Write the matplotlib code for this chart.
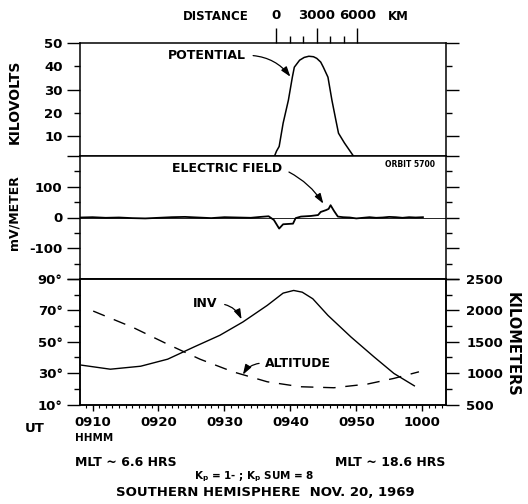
import matplotlib.pyplot as plt

# time axis: minutes after 09:00 UT
ut_ticks = [10, 20, 30, 40, 50, 60]
ut_labels = ["0910", "0920", "0930", "0940", "0950", "1000"]

# potential (kV)
pot_time = [8.1, 37.4, 37.9, 38.3, 38.9, 39.7, 40.3, 40.6, 41.4, 42.1, 42.8, 43.5,
            44.0, 44.6, 45.0, 45.7, 46.3, 46.9, 47.3, 48.2, 49.9, 63.6]
pot_kv = [0, 0, 3.5, 5.5, 15.5, 25.4, 35.3, 39.6, 42.6, 43.8, 44.3, 44.1,
          43.4, 41.8, 39.6, 35.3, 25.4, 16.8, 11.2, 7.0, 0, 0]

# electric field (mV/m)
ef_time = [8.2, 10, 12, 14, 16, 18, 20, 22, 24, 26, 28, 30, 32, 34, 35.5, 36.7,
           37.5, 38.3, 38.9, 40.4, 40.8, 41.6, 43.1, 44.2, 44.6, 45.4, 45.8, 46.1,
           46.6, 47.2, 48, 49, 50, 51, 52, 53, 54, 55, 56, 57, 58, 59, 60.1]
ef_mv = [0, 1, -1, 0, -2, -3, -1, 1, 2, 0, -2, 1, 0, -1, 2, 4,
         -8, -36, -22, -20, -2, 3, 5, 8, 18, 24, 28, 40,
         22, 3, 1, 0, -3, -1, 1, -1, 0, 2, 1, -1, 1, 0, 1]

# invariant latitude (deg)
inv_time = [8.3, 12.7, 17.3, 21.4, 25.4, 29.3, 32.8, 36.5, 38.9, 40.5, 41.8,
            43.4, 45.7, 49.2, 52.7, 55.7, 58.8]
inv_deg = [35.1, 32.5, 34.4, 38.9, 46.7, 54.1, 62.6, 73.2, 81.0, 82.7, 81.6,
           77.4, 66.8, 53.0, 40.3, 29.8, 21.9]

# altitude (km)
alt_time = [10.1, 16.2, 21.4, 26.3, 31.3, 36.5, 41.5, 46.6, 51.7, 55.7, 59.5]
alt_km = [1989, 1725, 1460, 1222, 1021, 862, 783, 767, 826, 916, 1021]

dist_ticks = [0, 3000, 6000]
dist_minor = [1000, 2000, 4000, 5000]
dist_labels = ["0", "3000", "6000"]

FW, FH = 528, 504
XMIN, XMAX = 8.1, 63.6
FS = 9.5
plt.rcParams["font.family"] = ["DejaVu Sans"]
plt.rcParams["font.weight"] = "bold"
plt.rcParams["font.size"] = FS

fig = plt.figure(figsize=(FW / 100, FH / 100), dpi=100)


def box(top, bot):
    return [80 / FW, 1 - bot / FH, 366 / FW, (bot - top) / FH]


def ytick_style(ax):
    ax.tick_params(axis="y", which="major", direction="out", length=9.5, width=1,
                   pad=3, left=True, right=True)
    ax.tick_params(axis="y", which="minor", direction="out", length=4.5, width=1,
                   pad=8, left=True, right=True)


def fig_text(x, y, s, **kw):
    fig.text(x / FW, 1 - y / FH, s, **kw)


arrow = dict(arrowstyle="-|>,head_length=0.6,head_width=0.2", color="k",
             lw=0.9, mutation_scale=10, shrinkB=0)

ax1 = fig.add_axes(box(43, 156))
ax2 = fig.add_axes(box(156, 279))
ax3 = fig.add_axes(box(279, 404.5))

for ax in (ax1, ax2, ax3):
    ax.set_xlim(XMIN, XMAX)
    for sp in ax.spines.values():
        sp.set_linewidth(1.1)

for ax in (ax1, ax2):
    ax.tick_params(axis="x", which="both", bottom=False, labelbottom=False)

# top panel: potential
ax1.plot(pot_time, pot_kv, color="k", lw=1.1)
ax1.set_ylim(1.4, 50)
ax1.set_yticks([10, 30, 50])
ax1.set_yticks([20, 40], minor=True)
ax1.set_yticklabels(["10", "30", "50"])
ax1.set_yticklabels(["20", "40"], minor=True)
ytick_style(ax1)
ax1.annotate("POTENTIAL", xy=(40.0, 35.5), xytext=(33.3, 44.7), ha="right", va="center",
             fontsize=9,
             arrowprops=dict(arrow, relpos=(1, 0.5), shrinkA=3,
                             connectionstyle="arc3,rad=-0.25"))

# distance scale on top
axd = ax1.twiny()
km_per_min = 488.0
t_zero = 37.85
axd.set_xlim((XMIN - t_zero) * km_per_min, (XMAX - t_zero) * km_per_min)
axd.set_xticks(dist_ticks)
axd.set_xticks(dist_minor, minor=True)
axd.set_xticklabels(dist_labels)
axd.tick_params(axis="x", which="major", direction="out", length=10.5, width=1, pad=4.5)
axd.tick_params(axis="x", which="minor", direction="out", length=5, width=1)
axd.tick_params(axis="y", which="both", left=False, right=False)
for sp in axd.spines.values():
    sp.set_visible(False)
fig_text(216, 16, "DISTANCE", ha="center", va="center", fontsize=8.5)
fig_text(398, 16, "KM", ha="center", va="center", fontsize=8.5)

# middle panel: electric field
ax2.axhline(0, color="k", lw=0.6)
ax2.plot(ef_time, ef_mv, color="k", lw=1.3)
ax2.set_ylim(-200, 200)
ax2.set_yticks([-200, -100, 0, 100, 200])
ax2.set_yticks([-150, -50, 50, 150], minor=True)
ax2.set_yticklabels(["", "-100", "0", "100", ""])
ax2.set_yticklabels([], minor=True)
ytick_style(ax2)
ax2.annotate("ELECTRIC FIELD", xy=(45.0, 45), xytext=(38.8, 158), ha="right", va="center",
             fontsize=9,
             arrowprops=dict(arrow, relpos=(1, 0.5), shrinkA=3,
                             connectionstyle="arc3,rad=-0.15"))
ax2.text(61.9, 171, "ORBIT 5700", ha="right", va="center", fontsize=5.5, fontweight="bold")

# bottom panel: INV and altitude
ax3.plot(inv_time, inv_deg, color="k", lw=1.0)
ax3.set_ylim(10, 90)
ax3.set_yticks([10, 30, 50, 70, 90])
ax3.set_yticks([20, 40, 60, 80], minor=True)
ax3.set_yticklabels(["10°", "30°", "50°", "70°", "90°"])
ax3.set_yticklabels([], minor=True)
ax3.tick_params(axis="y", which="major", direction="out", length=9.5, width=1, pad=3,
                left=True, right=False)
ax3.tick_params(axis="y", which="minor", direction="out", length=4.5, width=1,
                left=True, right=False)
ax3.set_xticks(ut_ticks)
ax3.set_xticks(range(9, 64), minor=True)
ax3.set_xticklabels(ut_labels)
ax3.tick_params(axis="x", which="major", direction="out", length=4.5, width=1, pad=4)
ax3.tick_params(axis="x", which="minor", direction="out", length=2.2, width=0.8)

ax3r = ax3.twinx()
ax3r.set_xlim(XMIN, XMAX)
ax3r.plot(alt_time, alt_km, color="k", lw=1.0, dashes=(9, 7))
ax3r.set_ylim(500, 2500)
ax3r.set_yticks([500, 1000, 1500, 2000, 2500])
ax3r.set_yticks([750, 1250, 1750, 2250], minor=True)
ax3r.tick_params(axis="y", which="major", direction="out", length=9.5, width=1, pad=5)
ax3r.tick_params(axis="y", which="minor", direction="out", length=4.5, width=1)
for sp in ax3r.spines.values():
    sp.set_linewidth(1.1)

ax3.annotate("INV", xy=(32.6, 64.3), xytext=(29.0, 74.4), ha="right", va="center",
             fontsize=9,
             arrowprops=dict(arrow, relpos=(1, 0.5), shrinkA=3,
                             connectionstyle="arc3,rad=-0.3"))
ax3r.annotate("ALTITUDE", xy=(32.8, 975), xytext=(36.1, 1159), ha="left", va="center",
              fontsize=9,
              arrowprops=dict(arrow, relpos=(0, 0.5), shrinkA=2,
                              connectionstyle="arc3,rad=0.3"))

# axis titles and footer text
fig_text(15, 102, "KILOVOLTS", rotation=90, ha="center", va="center", fontsize=10)
fig_text(14, 213, "mV/METER", rotation=90, ha="center", va="center", fontsize=9)
fig_text(512, 344, "KILOMETERS", rotation=-90, ha="center", va="center", fontsize=10.5)
fig_text(35, 428, "UT", ha="center", va="center", fontsize=FS)
fig_text(75, 438, "HHMM", ha="left", va="center", fontsize=7.5)
fig_text(75, 462, "MLT ~ 6.6 HRS", ha="left", va="center", fontsize=9)
fig_text(445, 462, "MLT ~ 18.6 HRS", ha="right", va="center", fontsize=9)
fig_text(254, 477, r"K$_\mathbf{p}$ = 1- ; K$_\mathbf{p}$ SUM = 8",
         ha="center", va="center", fontsize=7.5)
fig_text(265, 493, "SOUTHERN HEMISPHERE  NOV. 20, 1969", ha="center", va="center",
         fontsize=9.5)

fig.savefig("out.png", dpi=100)
